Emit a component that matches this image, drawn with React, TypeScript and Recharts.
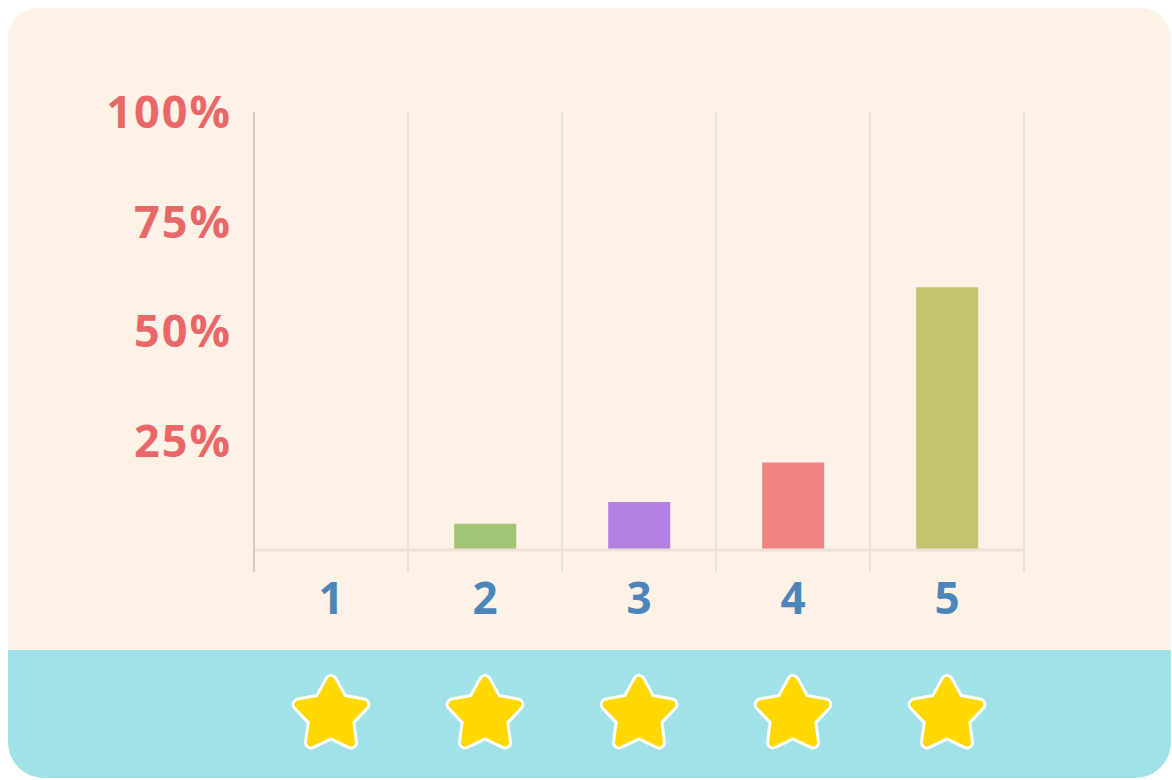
import { Bar, BarChart, CartesianGrid, Cell, ReferenceLine, XAxis, YAxis } from "recharts";

const ratings = ["1", "2", "3", "4", "5"];
const shares = [0, 6, 11, 20, 60];
const barColors = ["#a0c575", "#a0c575", "#b180e2", "#f08482", "#c2c46f"];
const yTicks = [25, 50, 75, 100];

const data = ratings.map((r, i) => ({ rating: r, share: shares[i] }));

document.body.style.margin = "0";
document.body.style.overflow = "hidden";

const FONT = "'Open Sans', sans-serif";

function starPoints(cx: number, cy: number, outer: number, inner: number) {
  const pts: string[] = [];
  for (let i = 0; i < 10; i++) {
    const r = i % 2 === 0 ? outer : inner;
    const a = (Math.PI / 5) * i - Math.PI / 2;
    pts.push(`${cx + r * Math.cos(a)},${cy + r * Math.sin(a)}`);
  }
  return pts.join(" ");
}

function Star({ cx, cy }: { cx: number; cy: number }) {
  const pts = starPoints(cx, cy, 34, 18);
  return (
    <g>
      <polygon points={pts} fill="#ffffff" stroke="#ffffff" strokeWidth={14} strokeLinejoin="round" />
      <polygon points={pts} fill="#ffd800" stroke="#ffd800" strokeWidth={8} strokeLinejoin="round" />
    </g>
  );
}

function XTick({ x, y, payload }: any) {
  return (
    <g>
      <text x={x} y={y + 42} textAnchor="middle" fill="#4c86b9" fontSize={44} fontWeight={700} fontFamily={FONT}>
        {payload.value}
      </text>
      <Star cx={x} cy={y + 143} />
    </g>
  );
}

function YTick({ x, y, payload }: any) {
  return (
    <text x={x - 22} y={y} dy={16} textAnchor="end" fill="#e8686a" fontSize={45} fontWeight={700} fontFamily={FONT} letterSpacing={2}>
      {payload.value}%
    </text>
  );
}

export default function App() {
  return (
    <div
      style={{
        position: "fixed",
        left: 8,
        top: 8,
        width: 1163,
        height: 770,
        background: "#fef1e6",
        borderRadius: "30px 30px 36px 36px",
        overflow: "hidden",
      }}
    >
      <div style={{ position: "absolute", left: 0, top: 642, width: "100%", height: 128, background: "#a1e1e8" }} />
      <div style={{ position: "absolute", left: 0, top: 0 }}>
        <BarChart width={1163} height={770} data={data} margin={{ top: 104, right: 147, left: 0, bottom: 0 }} barCategoryGap="30%">
          <CartesianGrid
            horizontal={false}
            stroke="#ece0d7"
            strokeWidth={2}
            verticalCoordinatesGenerator={({ offset }: any) =>
              ratings.map((_, i) => offset.left + (offset.width * i) / ratings.length).concat(offset.left + offset.width)
            }
          />
          <XAxis dataKey="rating" height={206} axisLine={false} tickLine={false} tickSize={0} tickMargin={0} tick={<XTick />} interval={0} />
          <YAxis
            width={246}
            domain={[-5, 100]}
            ticks={yTicks}
            allowDataOverflow
            tickLine={false}
            tickSize={0}
            tickMargin={0}
            axisLine={{ stroke: "#d3cbc4", strokeWidth: 2 }}
            tick={<YTick />}
          />
          <ReferenceLine y={0} stroke="#efe1d8" strokeWidth={3} />
          <Bar dataKey="share" isAnimationActive={false}>
            {data.map((_, i) => (
              <Cell key={i} fill={barColors[i]} />
            ))}
          </Bar>
        </BarChart>
      </div>
    </div>
  );
}
